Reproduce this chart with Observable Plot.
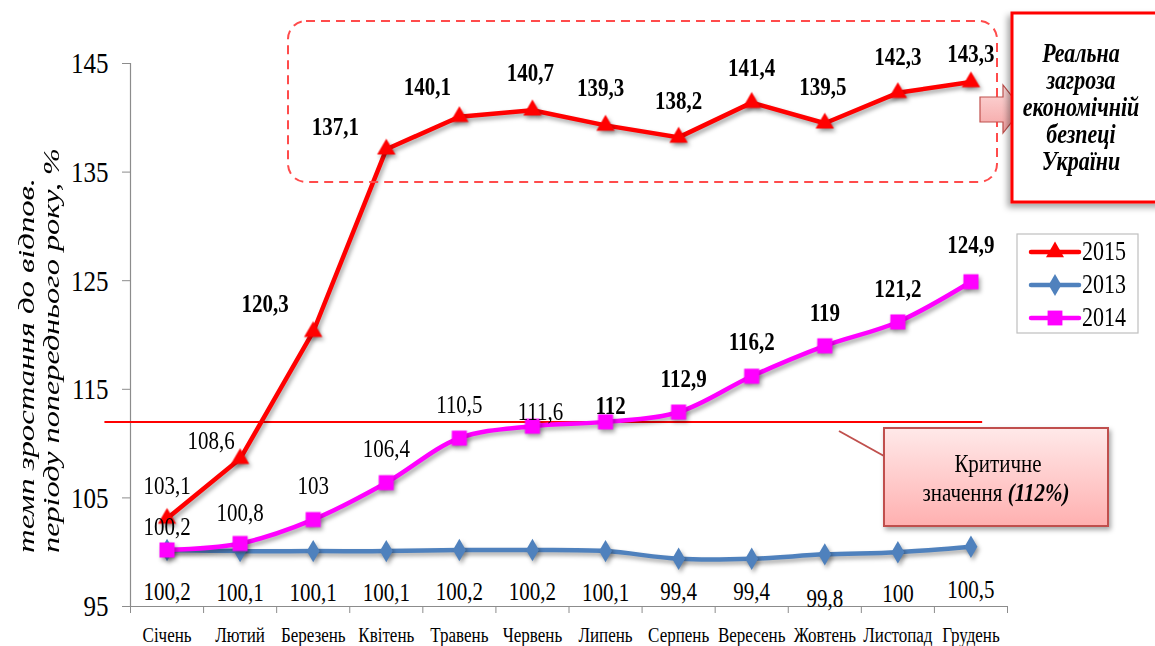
<!DOCTYPE html>
<html>
<head>
<meta charset="utf-8">
<script src="https://cdn.jsdelivr.net/npm/d3@7"></script>
<script src="https://cdn.jsdelivr.net/npm/@observablehq/plot@0.6"></script>
<style>
  html, body { margin: 0; padding: 0; background: #fff; }
  #wrap { position: relative; width: 1155px; height: 646px; overflow: hidden; font-family: "Liberation Serif", "Times New Roman", serif; }
  #wrap svg.plot g[aria-label="line"], #wrap svg.plot g[aria-label="dot"] { filter: drop-shadow(2px 3px 2px rgba(0,0,0,0.35)); }
  #overlay { position: absolute; left: 0; top: 0; pointer-events: none; }
  .stretch { transform-box: fill-box; transform-origin: center; transform: scaleY(1.22); }
</style>
</head>
<body>
<div id="wrap"></div>
<script>
// ---------- data ----------
const months = ["Січень","Лютий","Березень","Квітень","Травень","Червень","Липень","Серпень","Вересень","Жовтень","Листопад","Грудень"];
const values2015 = [103.1, 108.6, 120.3, 137.1, 140.1, 140.7, 139.3, 138.2, 141.4, 139.5, 142.3, 143.3];
const values2014 = [100.2, 100.8, 103, 106.4, 110.5, 111.6, 112, 112.9, 116.2, 119, 121.2, 124.9];
const values2013 = [100.2, 100.1, 100.1, 100.1, 100.2, 100.2, 100.1, 99.4, 99.4, 99.8, 100, 100.5];
const yTicks = [95, 105, 115, 125, 135, 145];
const criticalValue = 112;
const seriesNames = ["2015", "2013", "2014"];

// ---------- label placement (layout, pixel offsets) ----------
const place2015 = [[0,-33],[-29,-18],[-48,-28],[-51,-23],[-32,-30],[-2,-38],[-5,-38],[0,-37],[0,-35],[-2,-37],[0,-36],[0,-28]];
const place2014 = [[0,-23],[0,-31],[0,-34],[0,-34],[0,-33],[8,-15],[5,-16],[5,-33],[0,-35],[0,-33],[0,-33],[0,-37]];
const place2013 = [[0,42],[0,42],[0,42],[0,42],[0,42],[0,42],[0,42],[0,33],[0,33],[0,44],[0,41],[0,43]];
const boldFrom2015 = 2, boldFrom2014 = 6;

const fmt = v => String(v).replace(".", ",");
const rows = vals => vals.map((v, i) => ({i: i + 0.5, v, month: months[i], label: fmt(v)}));
const r2015 = rows(values2015), r2014 = rows(values2014), r2013 = rows(values2013);

const C2015 = "#FF0000", C2014 = "#FF00FF", C2013 = "#4F81BD";
const serif = "'Liberation Serif', 'Times New Roman', serif";

function labelMarks(data, place, boldFrom) {
  return data.map((d, k) => Plot.text([d], {
    x: "i", y: "v", text: "label",
    dx: place[k][0], dy: place[k][1],
    fontSize: 21, fontWeight: k >= boldFrom ? "bold" : "normal",
    fontFamily: serif, fill: "black"
  }));
}

const plot = Plot.plot({
  width: 1155, height: 646,
  marginLeft: 130, marginRight: 148, marginTop: 63, marginBottom: 40,
  style: {fontFamily: serif, background: "transparent", color: "black"},
  x: {type: "linear", domain: [0, 12], label: null},
  y: {domain: [95, 145], label: null},
  marks: [
    Plot.ruleX([0], {stroke: "#8c8c8c", strokeWidth: 1.2}),
    Plot.ruleY([95], {stroke: "#8c8c8c", strokeWidth: 1.2}),
    Plot.axisY({ticks: yTicks, tickSize: 8, tickPadding: 14, fontSize: 25, stroke: "#8c8c8c", label: null}),
    Plot.axisX({ticks: d3.range(0, 13), tickFormat: () => "", tickSize: 7, stroke: "#8c8c8c", label: null}),
    Plot.axisX({ticks: months.map((_, i) => i + 0.5), tickFormat: d => months[Math.round(d - 0.5)], tickSize: 0, tickPadding: 22, fontSize: 17, label: null}),
    Plot.ruleY([criticalValue], {x1: -0.35, x2: 11.66, stroke: "#FF0000", strokeWidth: 2}),
    Plot.line(r2013, {x: "i", y: "v", stroke: C2013, strokeWidth: 4.5, curve: "catmull-rom"}),
    Plot.dot(r2013, {x: "i", y: "v", symbol: "diamond", r: 6.8, fill: C2013, stroke: "none"}),
    Plot.line(r2014, {x: "i", y: "v", stroke: C2014, strokeWidth: 4.5, curve: "catmull-rom"}),
    Plot.dot(r2014, {x: "i", y: "v", symbol: "square", r: 8.5, fill: C2014, stroke: "none"}),
    Plot.line(r2015, {x: "i", y: "v", stroke: C2015, strokeWidth: 4.5}),
    Plot.dot(r2015, {x: "i", y: "v", symbol: "triangle", r: 6.8, fill: C2015, stroke: "none"}),
    ...labelMarks(r2013, place2013, 99),
    ...labelMarks(r2014, place2014, boldFrom2014),
    ...labelMarks(r2015, place2015, boldFrom2015)
  ]
});
plot.classList.add("plot");
const wrap = document.getElementById("wrap");
wrap.appendChild(plot);

// vertically stretch text like the original (keep each element's own transform on a wrapper group)
const svgNS = "http://www.w3.org/2000/svg";
function stretchText(root) {
  root.querySelectorAll("text").forEach(t => {
    if (t.getAttribute("data-nostretch")) return;
    const tr = t.getAttribute("transform");
    if (tr) {
      const g = document.createElementNS(svgNS, "g");
      g.setAttribute("transform", tr);
      t.parentNode.insertBefore(g, t);
      g.appendChild(t);
      t.removeAttribute("transform");
    }
    t.classList.add("stretch");
  });
}
stretchText(plot);

// ---------- annotations overlay ----------
const svg = d3.select(wrap).append("svg").attr("id", "overlay")
  .attr("width", 1155).attr("height", 646).style("font-family", serif);
const defs = svg.append("defs");
const sh = defs.append("filter").attr("id", "shadow").attr("x", "-20%").attr("y", "-20%").attr("width", "150%").attr("height", "150%");
sh.append("feDropShadow").attr("dx", -3).attr("dy", 4).attr("stdDeviation", 3).attr("flood-color", "#000").attr("flood-opacity", 0.35);
const sh2 = defs.append("filter").attr("id", "shadow2").attr("x", "-20%").attr("y", "-20%").attr("width", "150%").attr("height", "150%");
sh2.append("feDropShadow").attr("dx", 2).attr("dy", 3).attr("stdDeviation", 2.5).attr("flood-color", "#000").attr("flood-opacity", 0.35);
const g1 = defs.append("linearGradient").attr("id", "pinkGrad").attr("x1", 0).attr("y1", 0).attr("x2", 0).attr("y2", 1);
g1.append("stop").attr("offset", "0%").attr("stop-color", "#FFE9E9");
g1.append("stop").attr("offset", "100%").attr("stop-color", "#FFB0B0");
const g2 = defs.append("linearGradient").attr("id", "arrowGrad").attr("x1", 0).attr("y1", 0).attr("x2", 0).attr("y2", 1);
g2.append("stop").attr("offset", "0%").attr("stop-color", "#FDDADA");
g2.append("stop").attr("offset", "100%").attr("stop-color", "#F5A3A3");

// y-axis title
const yTitle = [
  {t: "темп зростання до відпов.", x: 28, len: 375},
  {t: "періоду попереднього року, %", x: 53, len: 405}
];
yTitle.forEach(d => {
  svg.append("text")
    .attr("data-nostretch", 1)
    .attr("transform", `translate(${d.x},553) rotate(-90)`)
    .attr("text-anchor", "start").attr("dominant-baseline", "middle")
    .attr("font-size", 24).attr("font-style", "italic")
    .attr("textLength", d.len).attr("lengthAdjust", "spacingAndGlyphs")
    .text(d.t);
});

// dashed region around the 2015 plateau
svg.append("rect").attr("x", 288).attr("y", 21).attr("width", 709).attr("height", 161)
  .attr("rx", 18).attr("fill", "none").attr("stroke", "#FF4B4B").attr("stroke-width", 2)
  .attr("stroke-dasharray", "9,6");

// arrow
svg.append("polygon")
  .attr("points", "980,97 1003,97 1003,85 1022,109 1003,133 1003,122 980,122")
  .attr("fill", "url(#arrowGrad)").attr("stroke", "#C0504D").attr("stroke-width", 1.2);

// threat box
svg.append("rect").attr("x", 1012).attr("y", 13).attr("width", 170).attr("height", 189)
  .attr("fill", "white").attr("stroke", "#FF0000").attr("stroke-width", 3).attr("filter", "url(#shadow)");
["Реальна", "загроза", "економічній", "безпеці", "України"].forEach((t, k) => {
  svg.append("text").attr("x", 1081).attr("y", 55 + k * 27)
    .attr("text-anchor", "middle").attr("dominant-baseline", "middle")
    .attr("font-size", 22).attr("font-weight", "bold").attr("font-style", "italic").text(t);
});

// callout for critical value
svg.append("line").attr("x1", 839).attr("y1", 431).attr("x2", 884).attr("y2", 456)
  .attr("stroke", "#C0504D").attr("stroke-width", 2);
svg.append("rect").attr("x", 884).attr("y", 428).attr("width", 224).attr("height", 98)
  .attr("fill", "url(#pinkGrad)").attr("stroke", "#C0504D").attr("stroke-width", 2).attr("filter", "url(#shadow2)");
svg.append("text").attr("x", 998).attr("y", 466).attr("text-anchor", "middle").attr("dominant-baseline", "middle")
  .attr("font-size", 21).text("Критичне");
const t2 = svg.append("text").attr("x", 996).attr("y", 495).attr("text-anchor", "middle").attr("dominant-baseline", "middle")
  .attr("font-size", 21);
t2.append("tspan").text("значення ");
t2.append("tspan").attr("font-weight", "bold").attr("font-style", "italic").text(`(${criticalValue}%)`);

// legend
svg.append("rect").attr("x", 1017).attr("y", 234).attr("width", 121).attr("height", 99)
  .attr("fill", "white").attr("stroke", "#BFBFBF").attr("stroke-width", 1.2);
const legendItems = [
  {name: seriesNames[0], color: C2015, sym: d3.symbolTriangle, size: 140},
  {name: seriesNames[1], color: C2013, sym: d3.symbolDiamond, size: 140},
  {name: seriesNames[2], color: C2014, sym: d3.symbolSquare, size: 220}
];
legendItems.forEach((d, k) => {
  const y = 252 + k * 33;
  svg.append("line").attr("x1", 1031).attr("x2", 1079).attr("y1", y).attr("y2", y)
    .attr("stroke", d.color).attr("stroke-width", 4.5).attr("stroke-linecap", "round");
  svg.append("path").attr("transform", `translate(1055,${y})`).attr("d", d3.symbol(d.sym, d.size)()).attr("fill", d.color);
  svg.append("text").attr("x", 1082).attr("y", y + 1).attr("dominant-baseline", "middle")
    .attr("font-size", 22).text(d.name);
});
stretchText(svg.node());
</script>
</body>
</html>
